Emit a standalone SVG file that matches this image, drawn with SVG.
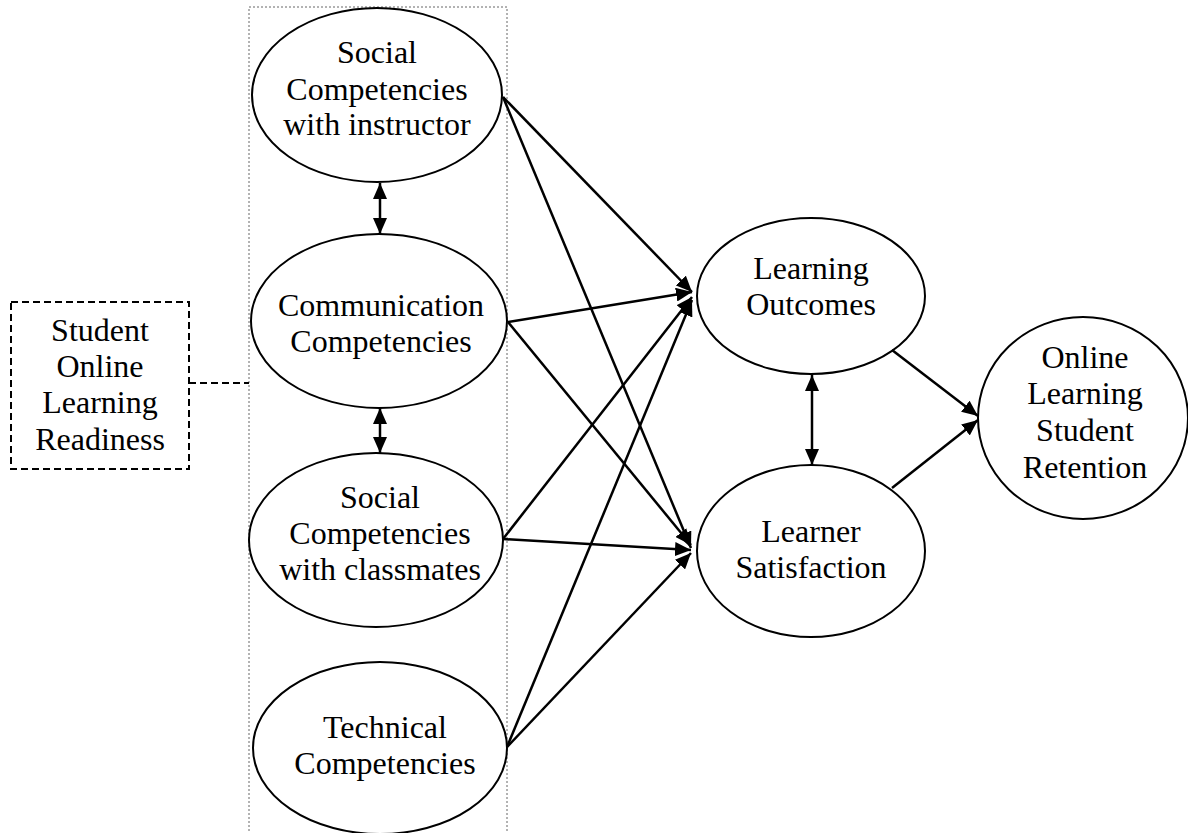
<svg xmlns="http://www.w3.org/2000/svg" width="1188" height="833" viewBox="0 0 1188 833">
<style>
.node ellipse{fill:#fff;stroke:#000;stroke-width:2}
text{font-family:"Liberation Serif","Times New Roman",serif;font-size:32px;fill:#000;text-anchor:middle}
.conn line{stroke:#000;stroke-width:2.5;fill:none}
.dash{stroke:#000;stroke-width:2;stroke-dasharray:7 4;fill:none}
.conn line.dash{stroke-width:2}
.dot{stroke:#666;stroke-width:1;stroke-dasharray:2 2;fill:none}
</style>
<defs>
<marker id="ah" markerUnits="userSpaceOnUse" viewBox="0 0 16 14" refX="16" refY="7" markerWidth="16" markerHeight="14" orient="auto-start-reverse">
<path d="M0,0 L16,7 L0,14 Z" fill="#000"/>
</marker>
</defs>
<rect class="dot" x="249" y="7" width="258" height="840"/>
<g id="readiness">
<rect class="dash" x="11" y="302" width="178" height="167"/>
<text x="100" y="341">Student</text>
<text x="100" y="377">Online</text>
<text x="100" y="413">Learning</text>
<text x="100" y="450">Readiness</text>
</g>
<g class="node" id="social-instructor">
<ellipse cx="377" cy="95" rx="125" ry="87"/>
<text x="377" y="63">Social</text>
<text x="377" y="100">Competencies</text>
<text x="377" y="135">with instructor</text>
</g>
<g class="node" id="communication">
<ellipse cx="379" cy="321" rx="128" ry="87"/>
<text x="381" y="316">Communication</text>
<text x="381" y="352">Competencies</text>
</g>
<g class="node" id="social-classmates">
<ellipse cx="376" cy="540" rx="127" ry="87"/>
<text x="380" y="508">Social</text>
<text x="380" y="544">Competencies</text>
<text x="380" y="580">with classmates</text>
</g>
<g class="node" id="technical">
<ellipse cx="380" cy="748" rx="127" ry="86"/>
<text x="385" y="738">Technical</text>
<text x="385" y="774">Competencies</text>
</g>
<g class="node" id="learning-outcomes">
<ellipse cx="811" cy="296" rx="114" ry="78"/>
<text x="811" y="279">Learning</text>
<text x="811" y="315">Outcomes</text>
</g>
<g class="node" id="learner-satisfaction">
<ellipse cx="811" cy="551" rx="114" ry="86"/>
<text x="811" y="542">Learner</text>
<text x="811" y="578">Satisfaction</text>
</g>
<g class="node" id="retention">
<ellipse cx="1083" cy="418" rx="105" ry="101"/>
<text x="1085" y="368">Online</text>
<text x="1085" y="404">Learning</text>
<text x="1085" y="441">Student</text>
<text x="1085" y="478">Retention</text>
</g>
<g class="conn" id="connectors">
<line class="dash" x1="189" y1="383" x2="249" y2="383"/>
<line x1="380" y1="183" x2="380" y2="234" marker-start="url(#ah)" marker-end="url(#ah)"/>
<line x1="380" y1="408" x2="380" y2="453" marker-start="url(#ah)" marker-end="url(#ah)"/>
<line x1="812" y1="375" x2="812" y2="465" marker-start="url(#ah)" marker-end="url(#ah)"/>
<line x1="503" y1="97" x2="692" y2="292" marker-end="url(#ah)"/>
<line x1="508" y1="322" x2="692" y2="292" marker-end="url(#ah)"/>
<line x1="503" y1="539" x2="692" y2="297" marker-end="url(#ah)"/>
<line x1="507" y1="747" x2="692" y2="300" marker-end="url(#ah)"/>
<line x1="503" y1="97" x2="691" y2="548" marker-end="url(#ah)"/>
<line x1="508" y1="322" x2="691" y2="545" marker-end="url(#ah)"/>
<line x1="503" y1="539" x2="691" y2="550" marker-end="url(#ah)"/>
<line x1="507" y1="747" x2="691" y2="553" marker-end="url(#ah)"/>
<line x1="892" y1="350" x2="978" y2="416" marker-end="url(#ah)"/>
<line x1="892" y1="488" x2="978" y2="420" marker-end="url(#ah)"/>
</g>
</svg>
